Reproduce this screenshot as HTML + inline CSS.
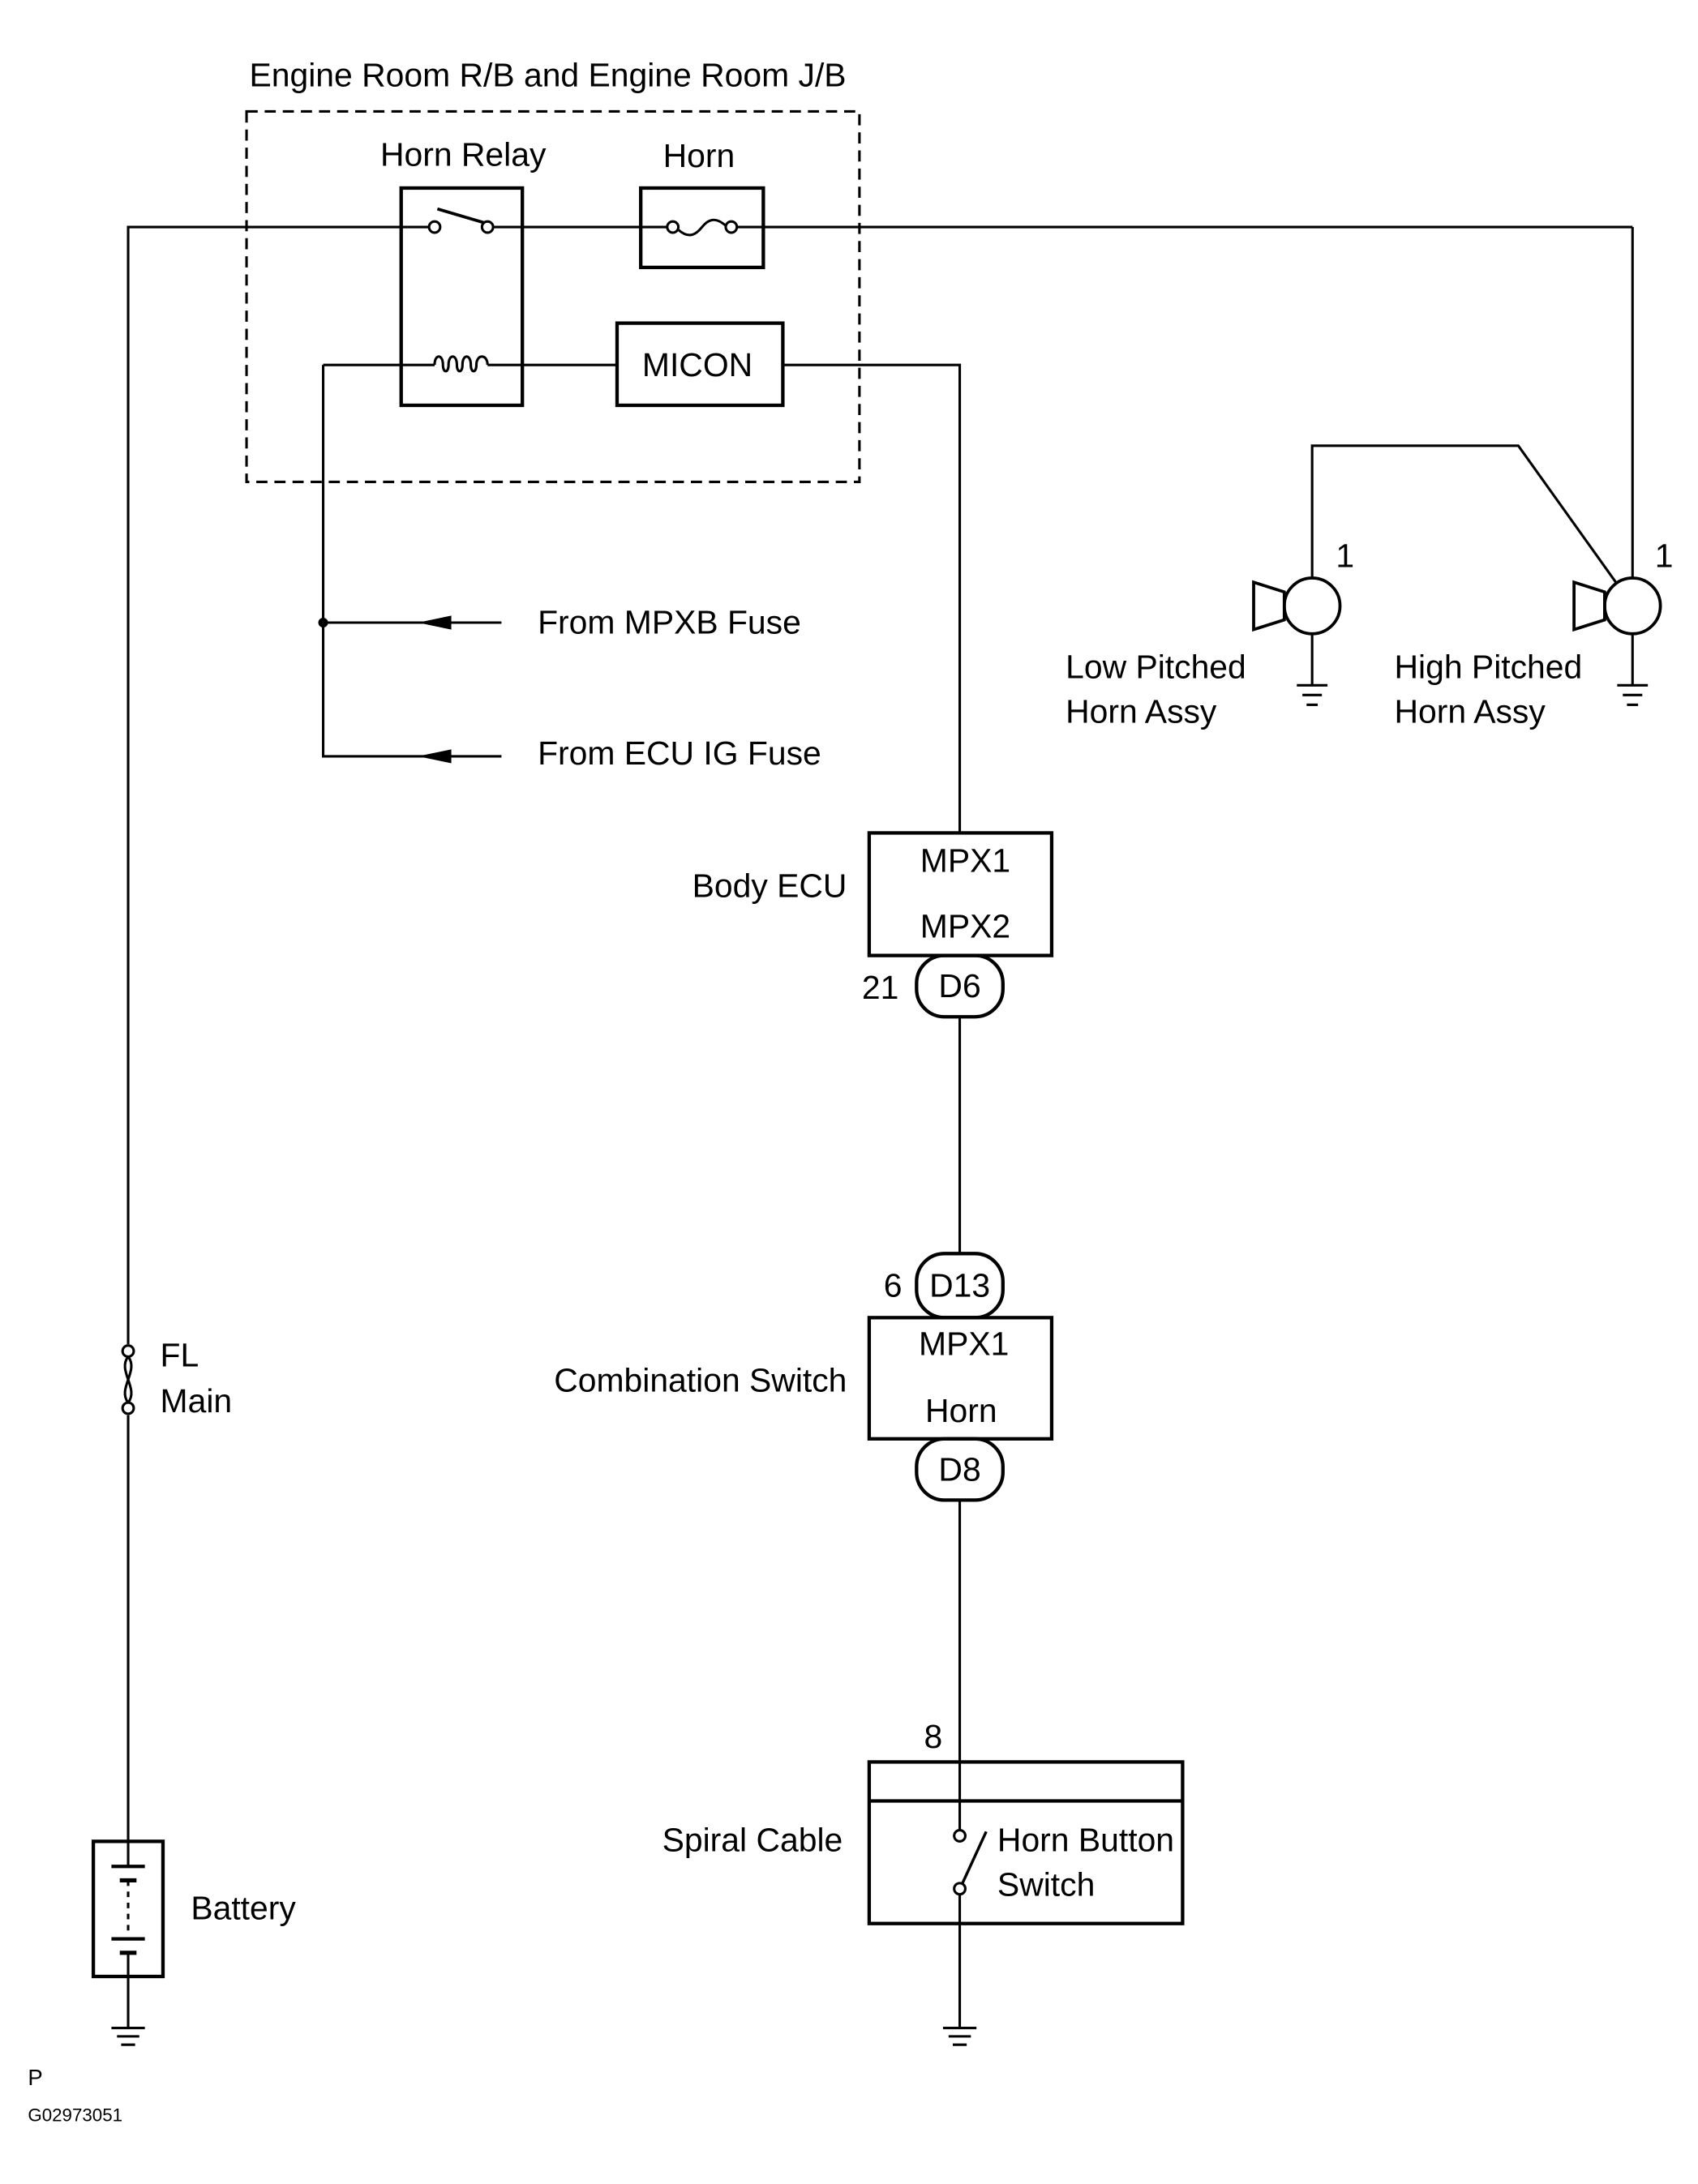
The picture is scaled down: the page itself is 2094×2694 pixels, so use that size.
<!DOCTYPE html>
<html><head><meta charset="utf-8"><style>
html,body{margin:0;padding:0;background:#fff;}
svg{display:block;}
text{font-family:"Liberation Sans",sans-serif;font-size:23.8px;fill:#000;}
</style></head><body>
<svg width="2094" height="2694" viewBox="0 0 1219 1568" preserveAspectRatio="none" xmlns="http://www.w3.org/2000/svg">
<g fill="none" stroke="#000" stroke-width="1.8">
<rect x="177" y="80" width="440" height="266" stroke-dasharray="8,5"/>
<polyline points="92,1322 92,1016"/>
<polyline points="92,965 92,163 308,163"/>
<line x1="354" y1="163" x2="479" y2="163"/>
<line x1="529" y1="163" x2="1172" y2="163"/>
<line x1="1172" y1="163" x2="1172" y2="415"/>
<rect x="288" y="135" width="87" height="156" stroke-width="2.5"/>
<circle cx="312" cy="163" r="4"/><circle cx="350" cy="163" r="4"/>
<line x1="314" y1="150" x2="348" y2="160" stroke-width="2.2"/>
<rect x="460" y="135" width="88" height="57" stroke-width="2.5"/>
<circle cx="483" cy="163" r="4"/><circle cx="525" cy="163" r="4"/>
<path d="M487,165 C495,172 500,168 504,163 C508,158 513,155 521,162"/>
<line x1="232" y1="262" x2="312" y2="262"/>
<path d="M312,262 C312,254 318,254 318,262 C318,268 322,268 322,262 C322,254 328,254 328,262 C328,268 332,268 332,262 C332,254 338,254 338,262 C338,268 342,268 342,262 C342,254 350,254 350,262"/>
<line x1="350" y1="262" x2="443" y2="262"/>
<rect x="443" y="232" width="119" height="59" stroke-width="2.5"/>
<polyline points="562,262 689,262 689,598"/>
<polyline points="232,262 232,543 360,543"/>
<line x1="232" y1="447" x2="360" y2="447"/>
<circle cx="942" cy="435" r="20" stroke-width="2.2"/>
<circle cx="1172" cy="435" r="20" stroke-width="2.2"/>
<polygon points="922,425 922,445 900,452 900,418" stroke-width="2.2"/>
<polygon points="1152,425 1152,445 1130,452 1130,418" stroke-width="2.2"/>
<polyline points="942,415 942,320 1090,320 1160,418"/>
<line x1="942" y1="455" x2="942" y2="492"/><line x1="1172" y1="455" x2="1172" y2="492"/>
<line x1="931" y1="492" x2="953" y2="492"/><line x1="935" y1="499" x2="949" y2="499"/><line x1="938" y1="506" x2="946" y2="506"/>
<line x1="1161" y1="492" x2="1183" y2="492"/><line x1="1165" y1="499" x2="1179" y2="499"/><line x1="1168" y1="506" x2="1176" y2="506"/>
<rect x="624" y="598" width="131" height="88" stroke-width="2.5"/>
<rect x="658" y="686" width="62" height="44" rx="20" stroke-width="2.5"/>
<line x1="689" y1="730" x2="689" y2="900"/>
<rect x="658" y="900" width="62" height="46" rx="20" stroke-width="2.5"/>
<rect x="624" y="946" width="131" height="87" stroke-width="2.5"/>
<rect x="658" y="1033" width="62" height="44" rx="20" stroke-width="2.5"/>
<line x1="689" y1="1077" x2="689" y2="1314"/>
<rect x="624" y="1265" width="225" height="116" stroke-width="2.5"/>
<line x1="624" y1="1293" x2="849" y2="1293" stroke-width="2.5"/>
<circle cx="689" cy="1318" r="4"/><circle cx="689" cy="1356" r="4"/>
<line x1="691" y1="1352" x2="708" y2="1315" stroke-width="2"/>
<line x1="689" y1="1360" x2="689" y2="1456"/>
<line x1="677" y1="1456" x2="701" y2="1456"/><line x1="681" y1="1462" x2="697" y2="1462"/><line x1="684" y1="1468" x2="694" y2="1468"/>
<circle cx="92" cy="970" r="4"/><circle cx="92" cy="1011" r="4"/>
<path d="M92,974 C84,984 100,997 92,1007 M92,974 C100,984 84,997 92,1007"/>
<rect x="67" y="1322" width="50" height="97" stroke-width="2.5"/>
<line x1="92" y1="1322" x2="92" y2="1340"/>
<line x1="80" y1="1340" x2="104" y2="1340" stroke-width="2.5"/><line x1="86" y1="1350" x2="98" y2="1350" stroke-width="3"/>
<line x1="92" y1="1350" x2="92" y2="1390" stroke-dasharray="4,4"/>
<line x1="80" y1="1392" x2="104" y2="1392" stroke-width="2.5"/><line x1="86" y1="1402" x2="98" y2="1402" stroke-width="3"/>
<line x1="92" y1="1402" x2="92" y2="1456"/>
<line x1="80" y1="1456" x2="104" y2="1456"/><line x1="84" y1="1462" x2="100" y2="1462"/><line x1="87" y1="1468" x2="97" y2="1468"/>
</g>
<circle cx="232" cy="447" r="3.5" fill="#000"/>
<polygon points="300,447 324,442 324,452" fill="#000"/>
<polygon points="300,543 324,538 324,548" fill="#000"/>
<text x="179" y="62">Engine Room R/B and Engine Room J/B</text>
<text x="273" y="119">Horn Relay</text>
<text x="476" y="120">Horn</text>
<text x="461" y="270">MICON</text>
<text x="386" y="455">From MPXB Fuse</text>
<text x="386" y="549">From ECU IG Fuse</text>
<text x="959" y="407">1</text>
<text x="1188" y="407">1</text>
<text x="765" y="487">Low Pitched</text>
<text x="765" y="519">Horn Assy</text>
<text x="1001" y="487">High Pitched</text>
<text x="1001" y="519">Horn Assy</text>
<text x="608" y="644" text-anchor="end">Body ECU</text>
<text x="693" y="626" text-anchor="middle">MPX1</text>
<text x="693" y="673" text-anchor="middle">MPX2</text>
<text x="689" y="716" text-anchor="middle">D6</text>
<text x="632" y="717" text-anchor="middle">21</text>
<text x="689" y="931" text-anchor="middle">D13</text>
<text x="641" y="931" text-anchor="middle">6</text>
<text x="608" y="999" text-anchor="end">Combination Switch</text>
<text x="692" y="973" text-anchor="middle">MPX1</text>
<text x="690" y="1021" text-anchor="middle">Horn</text>
<text x="689" y="1063" text-anchor="middle">D8</text>
<text x="670" y="1255" text-anchor="middle">8</text>
<text x="605" y="1329" text-anchor="end">Spiral Cable</text>
<text x="716" y="1329">Horn Button</text>
<text x="716" y="1361">Switch</text>
<text x="115" y="981">FL</text>
<text x="115" y="1014">Main</text>
<text x="137" y="1378">Battery</text>
<text x="20" y="1497" style="font-size:16px">P</text>
<text x="20" y="1523" style="font-size:13px">G02973051</text>
</svg>
</body></html>
